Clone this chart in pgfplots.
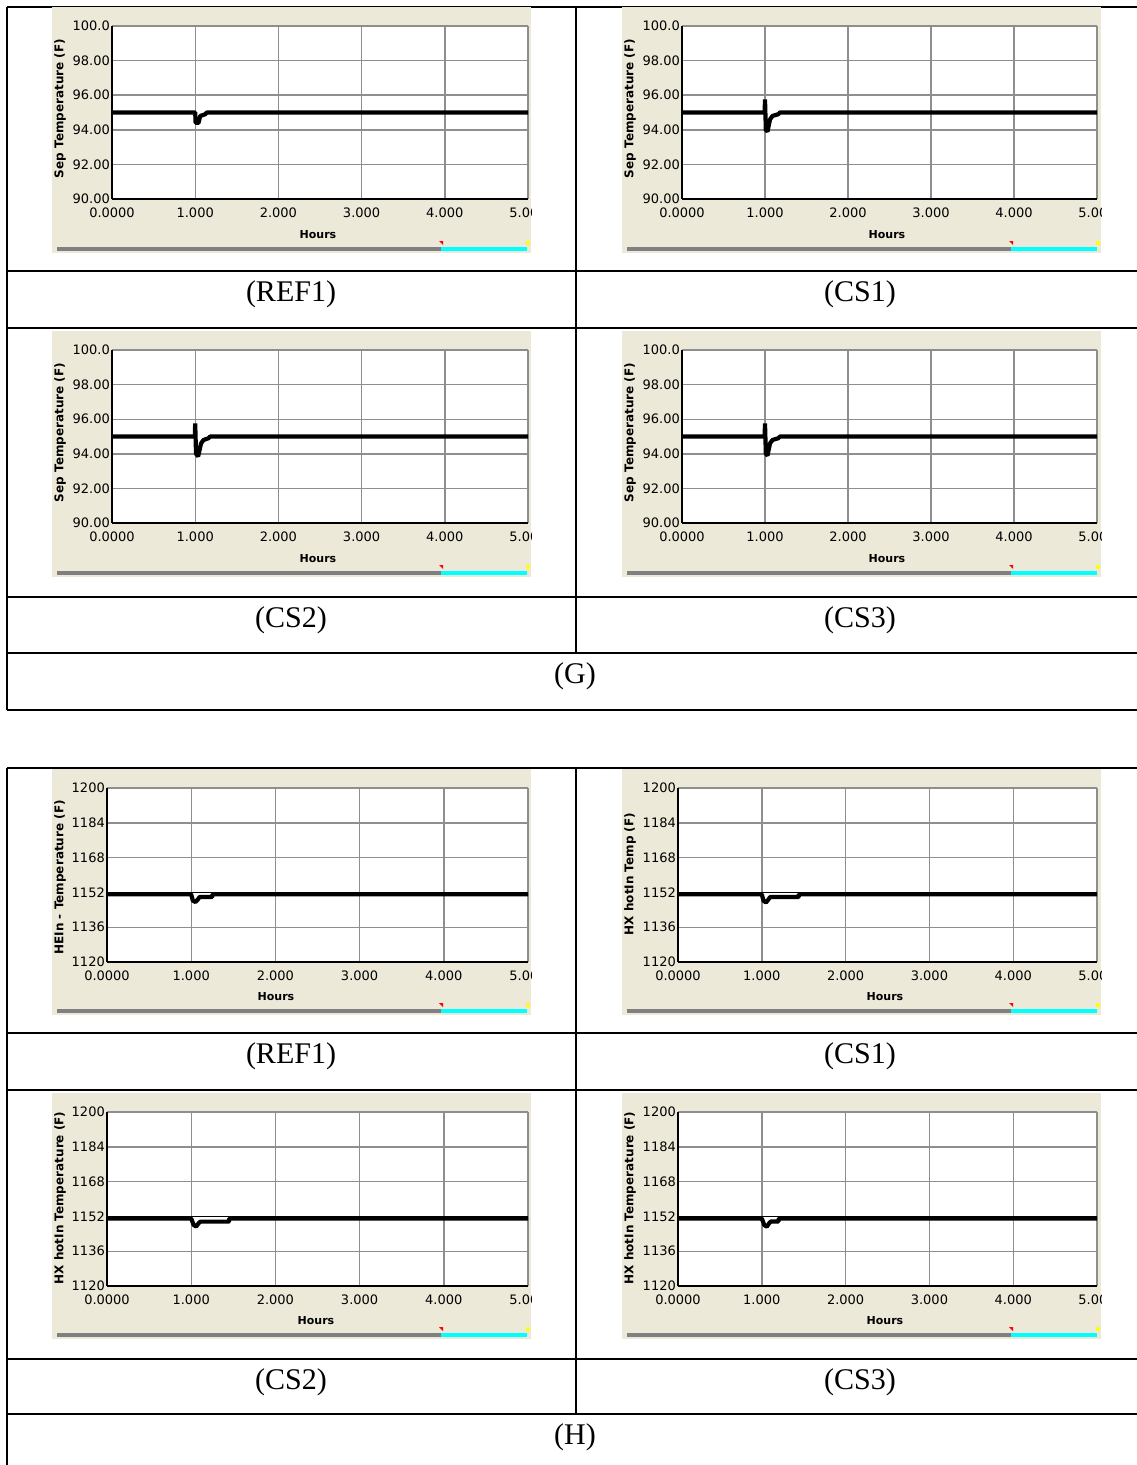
\documentclass[border=0pt]{standalone}
\usepackage{fontspec}
\setmainfont{Liberation Serif}
\newfontfamily\chartfont{DejaVu Sans}
\usepackage{pgfplots}
\pgfplotsset{compat=1.18}
\definecolor{beige}{HTML}{ECE9D8}
\definecolor{gridgray}{HTML}{8E8E8E}
\definecolor{bargray}{HTML}{808080}
\definecolor{hcyan}{HTML}{00FFFF}
\definecolor{hyellow}{HTML}{FFFF00}
\newcommand{\tickfont}{\chartfont\fontsize{13bp}{13bp}\selectfont}
\newcommand{\labfont}{\chartfont\bfseries\fontsize{11bp}{11bp}\selectfont}
\newcommand{\ylabfont}{\chartfont\bfseries\fontsize{12bp}{12bp}\selectfont}
\newcommand{\capfont}{\fontsize{30bp}{30bp}\selectfont}
\tikzset{
  pv/.style={black, line width=4.2bp, line join=bevel},
  sp/.style={black, line width=1.3bp},
  hours/.style={font=\labfont, inner sep=0pt},
  ylab/.style={font=\ylabfont, inner sep=0pt, rotate=90},
  capt/.style={font=\capfont, anchor=base, inner sep=0pt},
}
\pgfplotsset{
  hysys/.style={
    scale only axis, axis lines*=left, anchor=north west,
    xmin=0, xmax=5, xtick={0,1,2,3,4,5},
    xticklabels={0.0000,1.000,2.000,3.000,4.000,5.000},
    grid=major, major grid style={draw=gridgray, line width=1.4bp},
    axis line style={black, line width=1.8bp},
    major tick length=0pt,
    tick label style={font=\tickfont},
    xticklabel style={anchor=north, inner sep=0pt, yshift=-9bp},
    yticklabel style={anchor=east, inner sep=0pt, xshift=-2bp},
    axis background/.style={fill=white},
  },
  gtemp/.style={ymin=90, ymax=100, ytick={90,92,94,96,98,100},
    yticklabels={90.00,92.00,94.00,96.00,98.00,100.0}},
  htemp/.style={ymin=1120, ymax=1200, ytick={1120,1136,1152,1168,1184,1200},
    yticklabels={1120,1136,1152,1168,1184,1200}},
}
\newcommand{\statusbar}[2]{%
  \draw[line width=4bp, bargray] (#1+5,-#2-242) -- (#1+389,-#2-242);
  \draw[line width=4bp, hcyan] (#1+389,-#2-242) -- (#1+475,-#2-242);
  \fill[red] (#1+387,-#2-234) -- (#1+391,-#2-234) -- (#1+391,-#2-238) -- cycle;
  \fill[hyellow] (#1+476,-#2-236) circle (2.2);
}
\newcommand{\panelbg}[2]{%
  \clip (#1,-#2) rectangle (#1+479,-#2-246);
  \fill[beige] (#1,-#2) rectangle (#1+479,-#2-246);
}
\begin{document}
\begin{tikzpicture}[x=1bp,y=1bp]
\path[use as bounding box] (0,0) rectangle (1136,-1465);
\fill[white] (0,0) rectangle (1136,-1465);

% ---------------- table lines ----------------
\begin{scope}[line width=2bp]
\foreach \yy in {7,271,328,597,653,710} {\draw (7,-\yy) -- (1150,-\yy);}
\draw (7,-7) -- (7,-710);
\draw (576,-7) -- (576,-653);
\draw (1144,-7) -- (1144,-710);
\foreach \yy in {768,1033,1090,1359,1414} {\draw (7,-\yy) -- (1150,-\yy);}
\draw (7,-768) -- (7,-1475);
\draw (576,-768) -- (576,-1414);
\draw (1144,-768) -- (1144,-1475);
\end{scope}

\node[capt] at (291,-301) {(REF1)};
\node[capt] at (860,-301) {(CS1)};
\node[capt] at (291,-627) {(CS2)};
\node[capt] at (860,-627) {(CS3)};
\node[capt] at (575,-683) {(G)};
\node[capt] at (291,-1063) {(REF1)};
\node[capt] at (860,-1063) {(CS1)};
\node[capt] at (291,-1389) {(CS2)};
\node[capt] at (860,-1389) {(CS3)};
\node[capt] at (575,-1444) {(H)};

% G REF1
\begin{scope}
\panelbg{52}{7}
\begin{axis}[hysys, gtemp, at={(112bp,-26bp)}, width=416bp, height=173bp]
\addplot[pv] coordinates {(0,95) (1.0,95) (1.005,94.4) (1.04,94.4) (1.06,94.8) (1.12,94.9) (1.14,95) (5,95)};
\end{axis}
\node[hours] at (318,-235) {Hours};
\node[ylab] at (60,-108.5) {Sep Temperature (F)};
\statusbar{52}{7}
\end{scope}

% G CS1
\begin{scope}
\panelbg{622}{7}
\begin{axis}[hysys, gtemp, at={(682bp,-26bp)}, width=415bp, height=173bp]
\addplot[pv] coordinates {(0,95) (0.995,95) (1.0,95.75) (1.01,94.0) (1.03,93.9) (1.06,94.6) (1.09,94.8) (1.16,94.9) (1.18,95) (5,95)};
\end{axis}
\node[hours] at (887,-235) {Hours};
\node[ylab] at (630,-108.5) {Sep Temperature (F)};
\statusbar{622}{7}
\end{scope}

% G CS2
\begin{scope}
\panelbg{52}{331}
\begin{axis}[hysys, gtemp, at={(112bp,-350bp)}, width=416bp, height=173bp]
\addplot[pv] coordinates {(0,95) (0.995,95) (1.0,95.75) (1.01,94.0) (1.035,93.85) (1.07,94.6) (1.1,94.8) (1.16,94.9) (1.18,95) (5,95)};
\end{axis}
\node[hours] at (318,-559) {Hours};
\node[ylab] at (60,-432.5) {Sep Temperature (F)};
\statusbar{52}{331}
\end{scope}

% G CS3
\begin{scope}
\panelbg{622}{331}
\begin{axis}[hysys, gtemp, at={(682bp,-350bp)}, width=415bp, height=173bp]
\addplot[pv] coordinates {(0,95) (0.995,95) (1.0,95.75) (1.01,94.0) (1.03,93.9) (1.06,94.6) (1.09,94.8) (1.16,94.9) (1.18,95) (5,95)};
\end{axis}
\node[hours] at (887,-559) {Hours};
\node[ylab] at (630,-432.5) {Sep Temperature (F)};
\statusbar{622}{331}
\end{scope}

% H REF1
\begin{scope}
\panelbg{52}{769}
\begin{axis}[hysys, htemp, at={(107bp,-788bp)}, width=421bp, height=174bp]
\addplot[sp] coordinates {(0,1152.1) (5,1152.1)};
\addplot[pv] coordinates {(0,1151.1) (1.0,1151.1) (1.02,1148.2) (1.05,1147.6) (1.08,1148.8) (1.1,1149.9) (1.25,1149.9) (1.252,1151.1) (5,1151.1)};
\end{axis}
\node[hours] at (276,-997) {Hours};
\node[ylab, anchor=east] at (60,-800) {HEIn - Temperature (F)};
\statusbar{52}{769}
\end{scope}

% H CS1
\begin{scope}
\panelbg{622}{769}
\begin{axis}[hysys, htemp, at={(678bp,-788bp)}, width=419bp, height=174bp]
\addplot[sp] coordinates {(0,1152.1) (5,1152.1)};
\addplot[pv] coordinates {(0,1151.1) (1.0,1151.1) (1.02,1148.2) (1.05,1147.4) (1.08,1148.8) (1.1,1149.9) (1.44,1149.9) (1.442,1151.1) (5,1151.1)};
\end{axis}
\node[hours] at (885,-997) {Hours};
\node[ylab] at (630,-874) {HX hotIn Temp (F)};
\statusbar{622}{769}
\end{scope}

% H CS2
\begin{scope}
\panelbg{52}{1093}
\begin{axis}[hysys, htemp, at={(107bp,-1112bp)}, width=421bp, height=174bp]
\addplot[sp] coordinates {(0,1152.1) (5,1152.1)};
\addplot[pv] coordinates {(0,1151) (1.0,1151) (1.03,1148) (1.06,1147.4) (1.09,1149) (1.11,1149.6) (1.45,1149.6) (1.452,1151) (5,1151)};
\end{axis}
\node[hours] at (316,-1321) {Hours};
\node[ylab] at (60,-1198) {HX hotIn Temperature (F)};
\statusbar{52}{1093}
\end{scope}

% H CS3
\begin{scope}
\panelbg{622}{1093}
\begin{axis}[hysys, htemp, at={(678bp,-1112bp)}, width=419bp, height=174bp]
\addplot[sp] coordinates {(0,1152.1) (5,1152.1)};
\addplot[pv] coordinates {(0,1151) (1.0,1151) (1.03,1148) (1.06,1147.3) (1.09,1149) (1.11,1149.7) (1.2,1149.7) (1.202,1151) (5,1151)};
\end{axis}
\node[hours] at (885,-1321) {Hours};
\node[ylab] at (630,-1198) {HX hotIn Temperature (F)};
\statusbar{622}{1093}
\end{scope}

\end{tikzpicture}
\end{document}
